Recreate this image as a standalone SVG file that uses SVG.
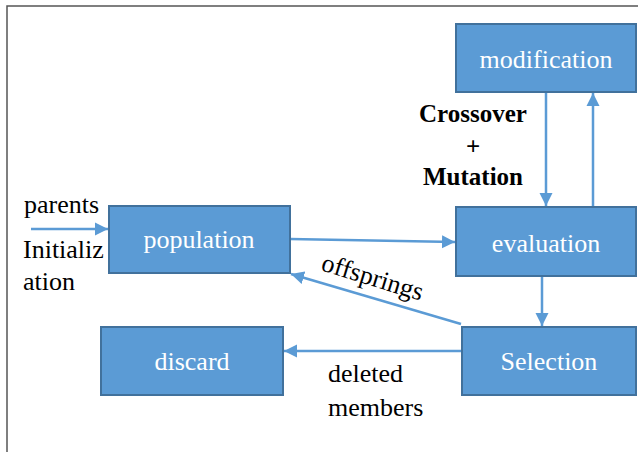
<svg xmlns="http://www.w3.org/2000/svg" width="638" height="452" viewBox="0 0 638 452">
<style>
.box{fill:#5B9BD5;stroke:#41719C;stroke-width:2}
.nt{font-family:"Liberation Serif",Tinos,"Times New Roman",Times,"DejaVu Serif","Noto Serif",serif;font-size:26px;fill:#fff;text-anchor:middle}
.lb{font-family:"Liberation Serif",Tinos,"Times New Roman",Times,"DejaVu Serif","Noto Serif",serif;font-size:26px;fill:#000}
.bd{font-family:"Liberation Serif",Tinos,"Times New Roman",Times,"DejaVu Serif","Noto Serif",serif;font-size:25px;font-weight:bold;fill:#000;text-anchor:middle}
.cn{stroke:#5B9BD5;stroke-width:2.5;fill:none}
</style>
<defs>
<marker id="ah" markerUnits="userSpaceOnUse" markerWidth="14" markerHeight="14" viewBox="0 0 14 14" refX="13" refY="7" orient="auto">
<path d="M0,0.5 L13,7 L0,13.5 Z" fill="#5B9BD5"/>
</marker>
</defs>
<rect width="638" height="452" fill="#fff"/>
<path d="M7,452 V6 H638" fill="none" stroke="#555" stroke-width="1.5"/>
<g id="connectors">
<line class="cn" x1="31" y1="229" x2="108" y2="229" marker-end="url(#ah)"/>
<line class="cn" x1="290" y1="239" x2="455" y2="242" marker-end="url(#ah)"/>
<line class="cn" x1="546" y1="93" x2="546" y2="206" marker-end="url(#ah)"/>
<line class="cn" x1="593" y1="207" x2="593" y2="93" marker-end="url(#ah)"/>
<line class="cn" x1="542" y1="277" x2="542" y2="326" marker-end="url(#ah)"/>
<line class="cn" x1="461" y1="324" x2="291" y2="274" marker-end="url(#ah)"/>
<line class="cn" x1="462" y1="351" x2="284" y2="351" marker-end="url(#ah)"/>
</g>
<g id="modification"><rect class="box" x="456" y="24" width="180" height="68"/><text class="nt" x="546" y="68" font-family="Liberation Serif, serif">modification</text></g>
<g id="population"><rect class="box" x="109" y="206" width="181" height="67"/><text class="nt" x="199" y="248">population</text></g>
<g id="evaluation"><rect class="box" x="456" y="207" width="180" height="69"/><text class="nt" x="546" y="252">evaluation</text></g>
<g id="selection"><rect class="box" x="462" y="327" width="174" height="68"/><text class="nt" x="549" y="370">Selection</text></g>
<g id="discard"><rect class="box" x="101" y="327" width="182" height="68"/><text class="nt" x="192" y="370">discard</text></g>
<g id="labels">
<text class="lb" x="24" y="213">parents</text>
<text class="lb" x="23" y="258">Initializ</text>
<text class="lb" x="23" y="290">ation</text>
<text class="bd" x="473" y="122">Crossover</text>
<text class="bd" x="473" y="155">+</text>
<text class="bd" x="473" y="185">Mutation</text>
<text class="lb" transform="translate(320,270) rotate(17)">offsprings</text>
<text class="lb" x="328" y="382">deleted</text>
<text class="lb" x="328" y="416">members</text>
</g>
</svg>
